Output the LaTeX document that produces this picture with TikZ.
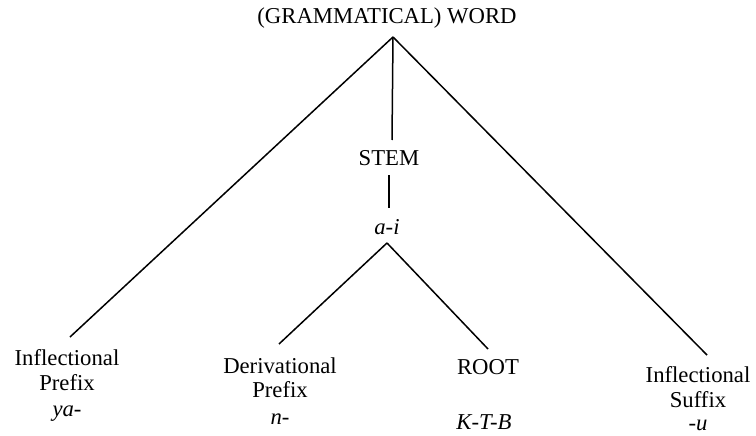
\documentclass[tikz,border=0pt]{standalone}
\usepackage{fontspec}
\setmainfont{Liberation Serif}
\begin{document}
\begin{tikzpicture}[x=1pt,y=-1pt,
  lbl/.style={anchor=base,inner sep=0pt,font=\fontsize{22.7}{27}\selectfont},
  form/.style={lbl,font=\fontsize{22.7}{27}\selectfont\itshape},
  branch/.style={line width=1.5pt,black}]
\useasboundingbox[fill=white] (0,0) rectangle (756,436);
% labels
\node[lbl] (word) at (387,24) {(GRAMMATICAL) WORD};
\node[lbl] (stem) at (389,165) {STEM};
\node[form] (ai) at (387,234) {a-i};
\node[lbl] (ip1) at (67,365) {Inflectional};
\node[lbl] (ip2) at (67,390) {Prefix};
\node[form] (ip3) at (67,416) {ya-};
\node[lbl] (dp1) at (280,373) {Derivational};
\node[lbl] (dp2) at (280,397) {Prefix};
\node[form] (dp3) at (280,424) {n-};
\node[lbl] (root) at (488,374) {ROOT};
\node[form] (rootf) at (484,429) {K-T-B};
\node[lbl] (is1) at (698,382) {Inflectional};
\node[lbl] (is2) at (698,407) {Suffix};
\node[form] (is3) at (698,430) {-u};
% branch points
\coordinate (A) at (393,37);
\coordinate (Aend) at (392,140);
\coordinate (Sa) at (389,175);
\coordinate (Sb) at (389,208);
\coordinate (B) at (387,243);
\coordinate (ipT) at (70,337);
\coordinate (isT) at (707,355);
\coordinate (dpT) at (279,344);
\coordinate (rtT) at (488,349);
% connectors
\draw[branch] (A) -- (ipT);
\draw[branch] (A) -- (isT);
\draw[branch] (A) -- (Aend);
\draw[branch] (Sa) -- (Sb);
\draw[branch] (B) -- (dpT);
\draw[branch] (B) -- (rtT);
\end{tikzpicture}
\end{document}
